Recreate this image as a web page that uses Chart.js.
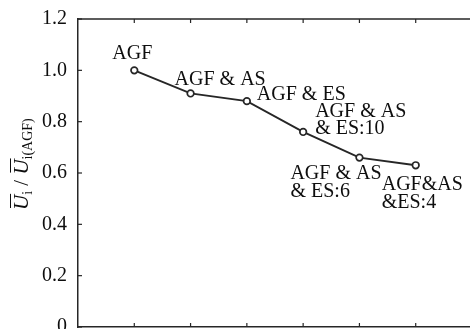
<!DOCTYPE html>
<html>
<head>
<meta charset="utf-8">
<script src="https://cdn.jsdelivr.net/npm/chart.js@4/dist/chart.umd.min.js"></script>
<style>
  html, body { margin: 0; padding: 0; background: #fff; overflow: hidden; }
  #wrap { width: 480px; height: 345px; }
</style>
</head>
<body>
<div id="wrap"><canvas id="c" width="480" height="345"></canvas></div>
<script>
// Configurations along the x axis, in order
const categories = ['AGF', 'AGF & AS', 'AGF & ES', 'AGF & AS\n& ES:10', 'AGF & AS\n& ES:6', 'AGF&AS\n&ES:4'];
// Normalised mean value Ū_i / Ū_i(AGF)
const values = [1.0, 0.91, 0.88, 0.76, 0.66, 0.63];
// Y axis ticks
const yTicks = [0, 0.2, 0.4, 0.6, 0.8, 1.0, 1.2];

// Label placement relative to each point: [left offset, first baseline offset, line gap]
const labelPlacement = [
  [-22, -11, 0],
  [-16, -8, 0],
  [10, -1.5, 0],
  [12, -15, 17],
  [-69, 21, 18],
  [-34, 25, 18]
];

const SERIF = "'Liberation Serif', 'DejaVu Serif', serif";
const INK = '#0e0e0e';
const LINE = '#262626';

// Frame: top edge plus inward tick marks on every side shown
const framePlugin = {
  id: 'frame',
  afterDraw(chart) {
    const { ctx, chartArea: a, scales: { x, y } } = chart;
    ctx.save();
    ctx.strokeStyle = LINE;
    ctx.lineWidth = 1.5;
    ctx.beginPath();
    ctx.moveTo(a.left, a.top);
    ctx.lineTo(a.right + 10, a.top);
    ctx.stroke();
    ctx.lineWidth = 1.2;
    yTicks.forEach(v => {
      const py = y.getPixelForValue(v);
      ctx.beginPath();
      ctx.moveTo(a.left, py);
      ctx.lineTo(a.left + 4, py);
      ctx.stroke();
    });
    categories.forEach((c, i) => {
      const px = x.getPixelForValue(i + 1);
      ctx.beginPath();
      ctx.moveTo(px, a.bottom);
      ctx.lineTo(px, a.bottom - 4);
      ctx.moveTo(px, a.top);
      ctx.lineTo(px, a.top + 4);
      ctx.stroke();
    });
    ctx.restore();
  }
};

// Point labels naming each configuration
const pointLabelPlugin = {
  id: 'pointLabels',
  afterDatasetsDraw(chart) {
    const { ctx } = chart;
    const pts = chart.getDatasetMeta(0).data;
    ctx.save();
    ctx.font = '20px ' + SERIF;
    ctx.fillStyle = INK;
    ctx.textAlign = 'left';
    ctx.textBaseline = 'alphabetic';
    categories.forEach((label, i) => {
      const p = pts[i];
      const [dx, dy, gap] = labelPlacement[i];
      label.split('\n').forEach((line, k) => {
        ctx.fillText(line, p.x + dx, p.y + dy + k * gap);
      });
    });
    ctx.restore();
  }
};

// Rotated y axis title with overlined italic U and subscripts
const yTitlePlugin = {
  id: 'yTitle',
  afterDraw(chart) {
    const { ctx } = chart;
    const main = 'italic 21px ' + SERIF;
    const plain = '21px ' + SERIF;
    const sub = '14px ' + SERIF;
    const parts = [
      { t: 'U', f: main, dy: 0, bar: true },
      { t: 'i', f: sub, dy: 4 },
      { t: ' / ', f: plain, dy: 0 },
      { t: 'U', f: main, dy: 0, bar: true },
      { t: 'i(AGF)', f: sub, dy: 4 }
    ];
    ctx.save();
    ctx.translate(28, 210);
    ctx.rotate(-Math.PI / 2);
    ctx.fillStyle = INK;
    ctx.strokeStyle = INK;
    ctx.lineWidth = 1;
    ctx.textBaseline = 'alphabetic';
    let cx = 0;
    parts.forEach(p => {
      ctx.font = p.f;
      const w = ctx.measureText(p.t).width;
      ctx.fillText(p.t, cx, p.dy);
      if (p.bar) {
        ctx.beginPath();
        ctx.moveTo(cx + 2, -17.5);
        ctx.lineTo(cx + w + 1, -17.5);
        ctx.stroke();
      }
      cx += w;
    });
    ctx.restore();
  }
};

new Chart(document.getElementById('c'), {
  type: 'line',
  data: {
    datasets: [{
      data: values.map((v, i) => ({ x: i + 1, y: v })),
      borderColor: LINE,
      borderWidth: 1.9,
      pointRadius: 3.3,
      pointBorderWidth: 1.7,
      pointBackgroundColor: '#ffffff',
      pointBorderColor: LINE,
      tension: 0,
      fill: false
    }]
  },
  options: {
    responsive: false,
    animation: false,
    layout: { padding: { top: 19, right: 8, left: 0, bottom: 0 } },
    plugins: { legend: { display: false }, tooltip: { enabled: false } },
    scales: {
      x: {
        type: 'linear',
        min: 0,
        max: categories.length + 1,
        grid: { display: false },
        border: { display: true, color: LINE, width: 1.5 },
        ticks: { display: false },
        afterFit(s) { s.height = 18; }
      },
      y: {
        min: 0,
        max: 1.2,
        afterBuildTicks(s) { s.ticks = yTicks.map(v => ({ value: v })); },
        grid: { display: false },
        border: { display: true, color: LINE, width: 1.5 },
        ticks: {
          padding: 3,
          color: INK,
          font: { family: SERIF, size: 20 },
          callback: v => (v === 0 ? '0' : v.toFixed(1))
        },
        afterFit(s) { s.width = 78; }
      }
    }
  },
  plugins: [framePlugin, pointLabelPlugin, yTitlePlugin]
});
</script>
</body>
</html>
